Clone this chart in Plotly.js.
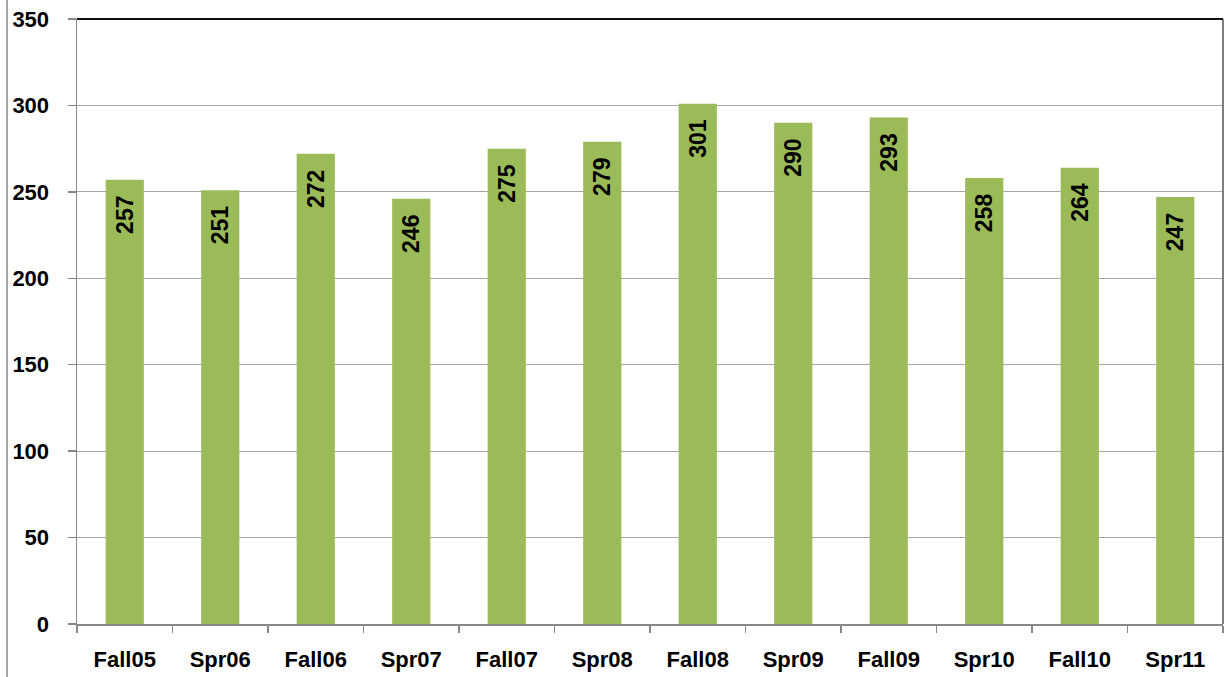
<!DOCTYPE html>
<html><head><meta charset="utf-8">
<script src="https://cdn.plot.ly/plotly-3.0.1.min.js"></script>
<style>html,body{margin:0;padding:0;background:#fff}</style>
</head><body>
<div id="chart" style="width:1225px;height:677px"></div>
<script>
const categories = ["Fall05","Spr06","Fall06","Spr07","Fall07","Spr08","Fall08","Spr09","Fall09","Spr10","Fall10","Spr11"];
const values = [257,251,272,246,275,279,301,290,293,258,264,247];
const yTicks = [0,50,100,150,200,250,300,350];

const font = "Liberation Sans, Arial, sans-serif";
const trace = {
  type: 'bar',
  x: categories,
  y: values,
  text: values.map(v => v + '\u00a0\u00a0'),
  textposition: 'inside',
  insidetextanchor: 'end',
  textangle: -90,
  constraintext: 'none',
  textfont: {family: font, size: 23, color: '#000', weight: 'bold'},
  marker: {color: '#9BBB59', line: {width: 0}},
  hoverinfo: 'none'
};
const layout = {
  width: 1225, height: 677,
  margin: {l: 77, r: 2, t: 19, b: 53, pad: 0},
  paper_bgcolor: '#fff', plot_bgcolor: '#fff',
  bargap: 0.6,
  showlegend: false,
  font: {family: font, color: '#000'},
  xaxis: {
    type: 'category',
    tickson: 'boundaries',
    ticks: 'outside', ticklen: 7, tickcolor: '#888', tickwidth: 1.5,
    showline: true, linecolor: '#888', linewidth: 1.5,
    showgrid: false,
    tickfont: {family: font, size: 22, color: '#000', weight: 'bold'},
    ticklabelstandoff: 15,
    fixedrange: true
  },
  yaxis: {
    range: [0, 350],
    tickvals: yTicks,
    ticktext: yTicks.map(String),
    ticks: 'outside', ticklen: 8, tickcolor: '#888', tickwidth: 1.5,
    showline: true, linecolor: '#888', linewidth: 1.5,
    showgrid: true, gridcolor: '#a6a6a6', gridwidth: 1,
    zeroline: false,
    tickfont: {family: font, size: 22, color: '#000', weight: 'bold'},
    ticklabelstandoff: 14,
    fixedrange: true
  },
  shapes: [
    {type: 'line', xref: 'paper', yref: 'paper', x0: 0, x1: 1, y0: 1, y1: 1, line: {color: '#111', width: 2}},
    {type: 'line', xref: 'paper', yref: 'paper', x0: 1, x1: 1, y0: 0, y1: 1, line: {color: '#555', width: 1.5}},
    {type: 'line', xref: 'paper', yref: 'paper', x0: (7-77)/1146, x1: (7-77)/1146, y0: -53/605, y1: 1 + 19/605, line: {color: '#888', width: 1.5}}
  ]
};
Plotly.newPlot('chart', [trace], layout, {displayModeBar: false, staticPlot: true});
</script>
</body></html>
